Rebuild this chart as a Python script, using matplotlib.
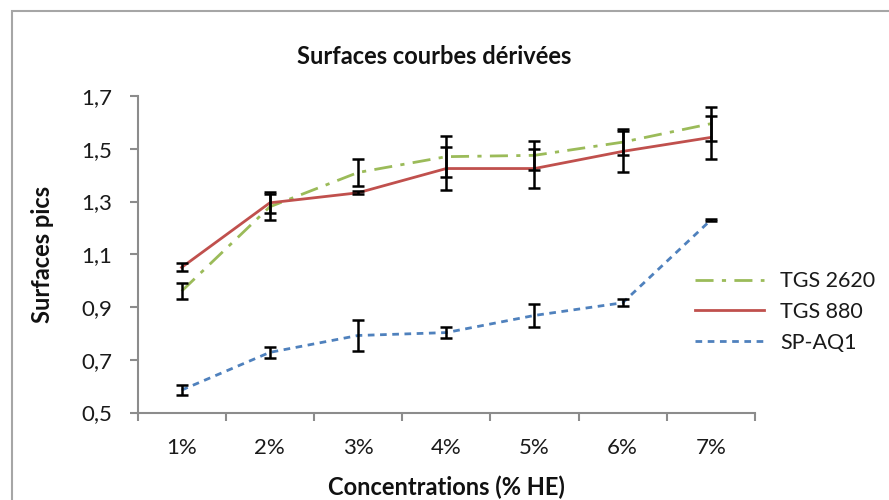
#!/usr/bin/env python3
import matplotlib
matplotlib.use('Agg')
import matplotlib.pyplot as plt
from matplotlib.patches import Rectangle
import numpy as np

# values
concentrations = ['1%', '2%', '3%', '4%', '5%', '6%', '7%']
tgs2620 = [0.96, 1.28, 1.41, 1.47, 1.475, 1.525, 1.595]
tgs2620_err = [0.03, 0.05, 0.053, 0.078, 0.055, 0.048, 0.065]
tgs880 = [1.05, 1.295, 1.333, 1.425, 1.425, 1.49, 1.543]
tgs880_err = [0.015, 0.04, 0.006, 0.08, 0.075, 0.078, 0.08]
spaq1 = [0.585, 0.728, 0.792, 0.803, 0.868, 0.916, 1.23]
spaq1_err = [0.019, 0.022, 0.057, 0.021, 0.043, 0.013, 0.003]
yticks = [0.5, 0.7, 0.9, 1.1, 1.3, 1.5, 1.7]

plt.rcParams['font.family'] = ['Lato', 'DejaVu Sans']

W, H = 889, 500
fig = plt.figure(figsize=(W/100, H/100), dpi=100)
ax = fig.add_axes([137.5/W, 1-412.5/H, (755-137.5)/W, (412.5-96)/H])

# chart area border (cut at right and bottom in the reference)
fig.patches.append(Rectangle((12/W, -0.1), 1.2, 1-11/H+0.1, transform=fig.transFigure,
                             fill=False, edgecolor='#a6a6a6', linewidth=1.5))

x = np.arange(len(concentrations))
err_kw = dict(ecolor='black', elinewidth=1.8, capsize=4.5, capthick=1.8, zorder=5)

ax.plot(x, tgs2620, color='#9bbb59', lw=2, dashes=(6.5, 3, 1.5, 3), label='TGS 2620')
ax.plot(x, tgs880, color='#c0504d', lw=2, label='TGS 880')
ax.plot(x, spaq1, color='#4f81bd', lw=2, dashes=(2.4, 2), label='SP-AQ1')
ax.errorbar(x, tgs2620, yerr=tgs2620_err, fmt='none', **err_kw)
ax.errorbar(x, tgs880, yerr=tgs880_err, fmt='none', **err_kw)
ax.errorbar(x, spaq1, yerr=spaq1_err, fmt='none', **err_kw)

ax.set_xlim(-0.5, len(concentrations)-0.5)
ax.set_ylim(0.5, 1.7)
ax.set_yticks(yticks)
ax.set_yticklabels([('%.1f' % v).replace('.', ',') for v in yticks])
ax.set_xticks(x)
ax.set_xticklabels(concentrations)
ax.set_xticks(np.arange(-0.5, len(concentrations)), minor=True)
ax.tick_params(axis='x', which='major', length=0, pad=18, labelsize=16, colors='#1a1a1a')
ax.tick_params(axis='x', which='minor', length=6, width=1.5, color='#8c8c8c', direction='out')
ax.tick_params(axis='y', length=6, width=1.5, color='#8c8c8c', labelsize=16, pad=12, labelcolor='#1a1a1a')

for s in ['top', 'right']:
    ax.spines[s].set_visible(False)
for s in ['left', 'bottom']:
    ax.spines[s].set_color('#8c8c8c')
    ax.spines[s].set_linewidth(1.5)

fig.text(434/W, 1-56/H, 'Surfaces courbes dérivées', ha='center', va='center',
         fontsize=17, fontweight='bold', color='#111111')
fig.text(42/W, 1-254/H, 'Surfaces pics', ha='center', va='center', rotation=90,
         fontsize=17, fontweight='bold', color='#111111')
fig.text(446/W, 1-487/H, 'Concentrations (% HE)', ha='center', va='center',
         fontsize=17, fontweight='bold', color='#111111')

leg = ax.legend(loc='center left', bbox_to_anchor=(676/W, 1-312/H), bbox_transform=fig.transFigure,
                frameon=False, fontsize=15.5, handlelength=3.2, handletextpad=0.75, labelspacing=0.5)
for t in leg.get_texts():
    t.set_color('#1a1a1a')

fig.savefig('out.png', dpi=100)
